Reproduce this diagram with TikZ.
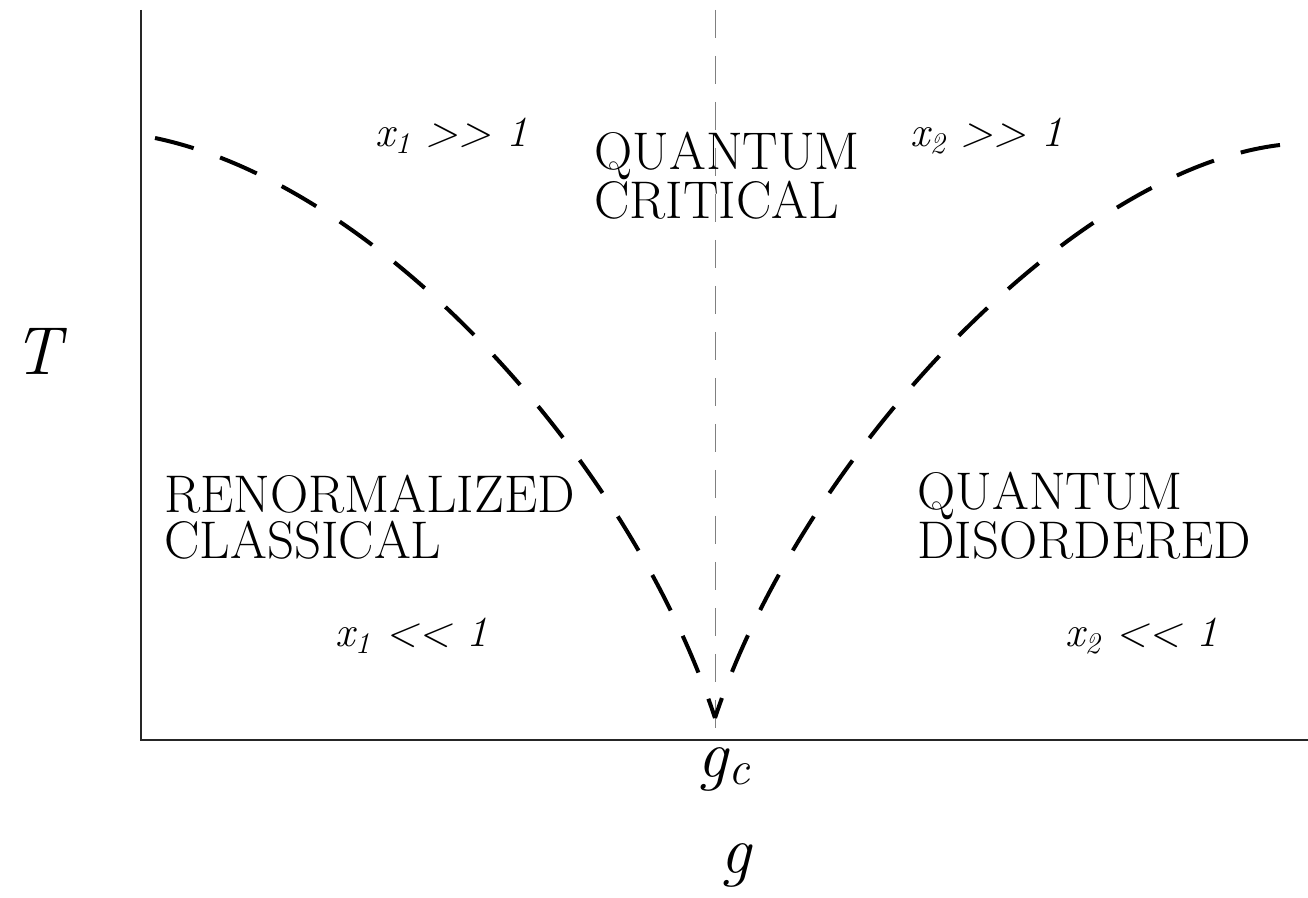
\documentclass[tikz,border=0pt]{standalone}
\usepackage{fontspec}
\begin{document}
\begin{tikzpicture}[x=0.5pt,y=-0.5pt,
  region/.style={font=\fontsize{26.5}{23}\selectfont, align=left, inner sep=0pt, anchor=base west},
  limit/.style={font=\fontsize{21.5}{21.5}\selectfont\itshape, inner sep=0pt, anchor=base west},
  axislabel/.style={font=\fontsize{34}{34}\selectfont\itshape, inner sep=0pt},
  axisline/.style={line width=0.75pt, black!85},
  crossover/.style={line width=2pt, dash pattern=on 20pt off 14pt, line cap=butt},
  critline/.style={line width=0.5pt, gray, dash pattern=on 14pt off 9pt}]
\useasboundingbox (0,0) rectangle (1308,898);
% axes
\coordinate (top) at (141,10);
\coordinate (origin) at (141,740);
\coordinate (right) at (1308,740);
\draw[axisline] (top) -- (origin) -- (right);
% critical line
\coordinate (ctop) at (715,10);
\coordinate (cbot) at (715,738);
\draw[critline] (ctop) -- (cbot);
% crossover curves
\coordinate (qcp) at (715,718);
\coordinate (lend) at (155,138);
\coordinate (rend) at (1280,145);
\draw[crossover] (lend) .. controls (380,185) and (630,460) .. (qcp);
\draw[crossover] (rend) .. controls (1070,170) and (800,460) .. (qcp);
% labels
\node[axislabel, anchor=base] (T) at (37,375) {T};
\node[axislabel, anchor=base west] (gc) at (697,777) {g\textsubscript{c}};
\node[axislabel, anchor=base] (g) at (736,873) {g};
\node[limit] (x1g) at (375,147) {x\textsubscript{1} {>}{>} 1};
\node[limit] (x2g) at (910,147) {x\textsubscript{2} {>}{>} 1};
\node[limit] (x1l) at (335,647) {x\textsubscript{1} {<}{<} 1};
\node[limit] (x2l) at (1065,647) {x\textsubscript{2} {<}{<} 1};
\node[region] (qc) at (594,219) {QUANTUM\\CRITICAL};
\node[region] (rc) at (164,559) {RENORMALIZED\\CLASSICAL};
\node[region] (qd) at (917,559) {QUANTUM\\DISORDERED};
\end{tikzpicture}
\end{document}
